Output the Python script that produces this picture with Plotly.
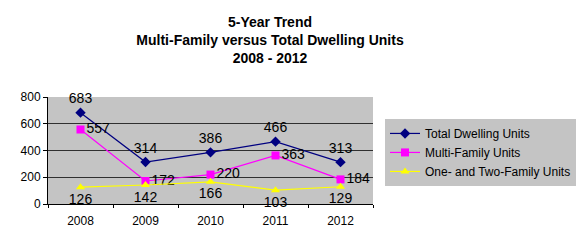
import plotly.graph_objects as go

years = ["2008", "2009", "2010", "2011", "2012"]
total_units = [683, 314, 386, 466, 313]
multi_family = [557, 172, 220, 363, 184]
one_two_family = [126, 142, 166, 103, 129]
y_ticks = [0, 200, 400, 600, 800]

FONT = "Liberation Sans, Arial, sans-serif"
LBL = dict(family=FONT, size=14, color="black")

fig = go.Figure()
fig.add_trace(go.Scatter(
    x=years, y=total_units, name="Total Dwelling Units", mode="lines+markers+text",
    line=dict(color="#000080", width=1.2), marker=dict(symbol="diamond", size=8, color="#000080"),
    text=[str(v) for v in total_units], textposition="top center",
    textfont=LBL, cliponaxis=False))
fig.add_trace(go.Scatter(
    x=years, y=multi_family, name="Multi-Family Units", mode="lines+markers+text",
    line=dict(color="#ff00ff", width=1.2), marker=dict(symbol="square", size=8, color="#ff00ff"),
    text=[str(v) for v in multi_family], textposition="middle right",
    textfont=LBL, cliponaxis=False))
fig.add_trace(go.Scatter(
    x=years, y=one_two_family, name="One- and Two-Family Units", mode="lines+markers+text",
    line=dict(color="#ffff00", width=1.2), marker=dict(symbol="triangle-up", size=8, color="#ffff00"),
    text=[str(v) for v in one_two_family], textposition="bottom center",
    textfont=LBL, cliponaxis=False))

fig.update_layout(
    width=576, height=245,
    margin=dict(l=48, r=203, t=97, b=41, autoexpand=False),
    paper_bgcolor="white", plot_bgcolor="#c4c4c4",
    font=dict(family=FONT, size=12, color="black"),
    title=dict(text="<b>5-Year Trend<br>Multi-Family versus Total Dwelling Units<br>2008 - 2012</b>",
               x=270 / 576, xanchor="center", y=1 - 27 / 245, yanchor="middle",
               font=dict(family=FONT, size=14, color="black")),
    legend=dict(x=1.037, y=0.795, xanchor="left", yanchor="top",
                bgcolor="#c4c4c4", bordercolor="#c4c4c4", borderwidth=0,
                font=dict(family=FONT, size=12, color="black"),
                tracegroupgap=0, itemwidth=30),
    showlegend=True,
)
fig.update_xaxes(type="category", range=[-0.5, 4.5], showgrid=False,
                 showline=True, linecolor="black", linewidth=1,
                 ticks="outside", tickson="boundaries", ticklen=3, tickcolor="black",
                 ticklabelstandoff=6,
                 tickfont=dict(family=FONT, size=12))
fig.update_yaxes(range=[0, 800], tickvals=y_ticks, showgrid=True, gridcolor="#303030", gridwidth=1,
                 showline=True, linecolor="black", linewidth=1,
                 ticks="outside", ticklen=4, tickcolor="black", zeroline=False,
                 tickfont=dict(family=FONT, size=12))

fig.write_html("out.html")
